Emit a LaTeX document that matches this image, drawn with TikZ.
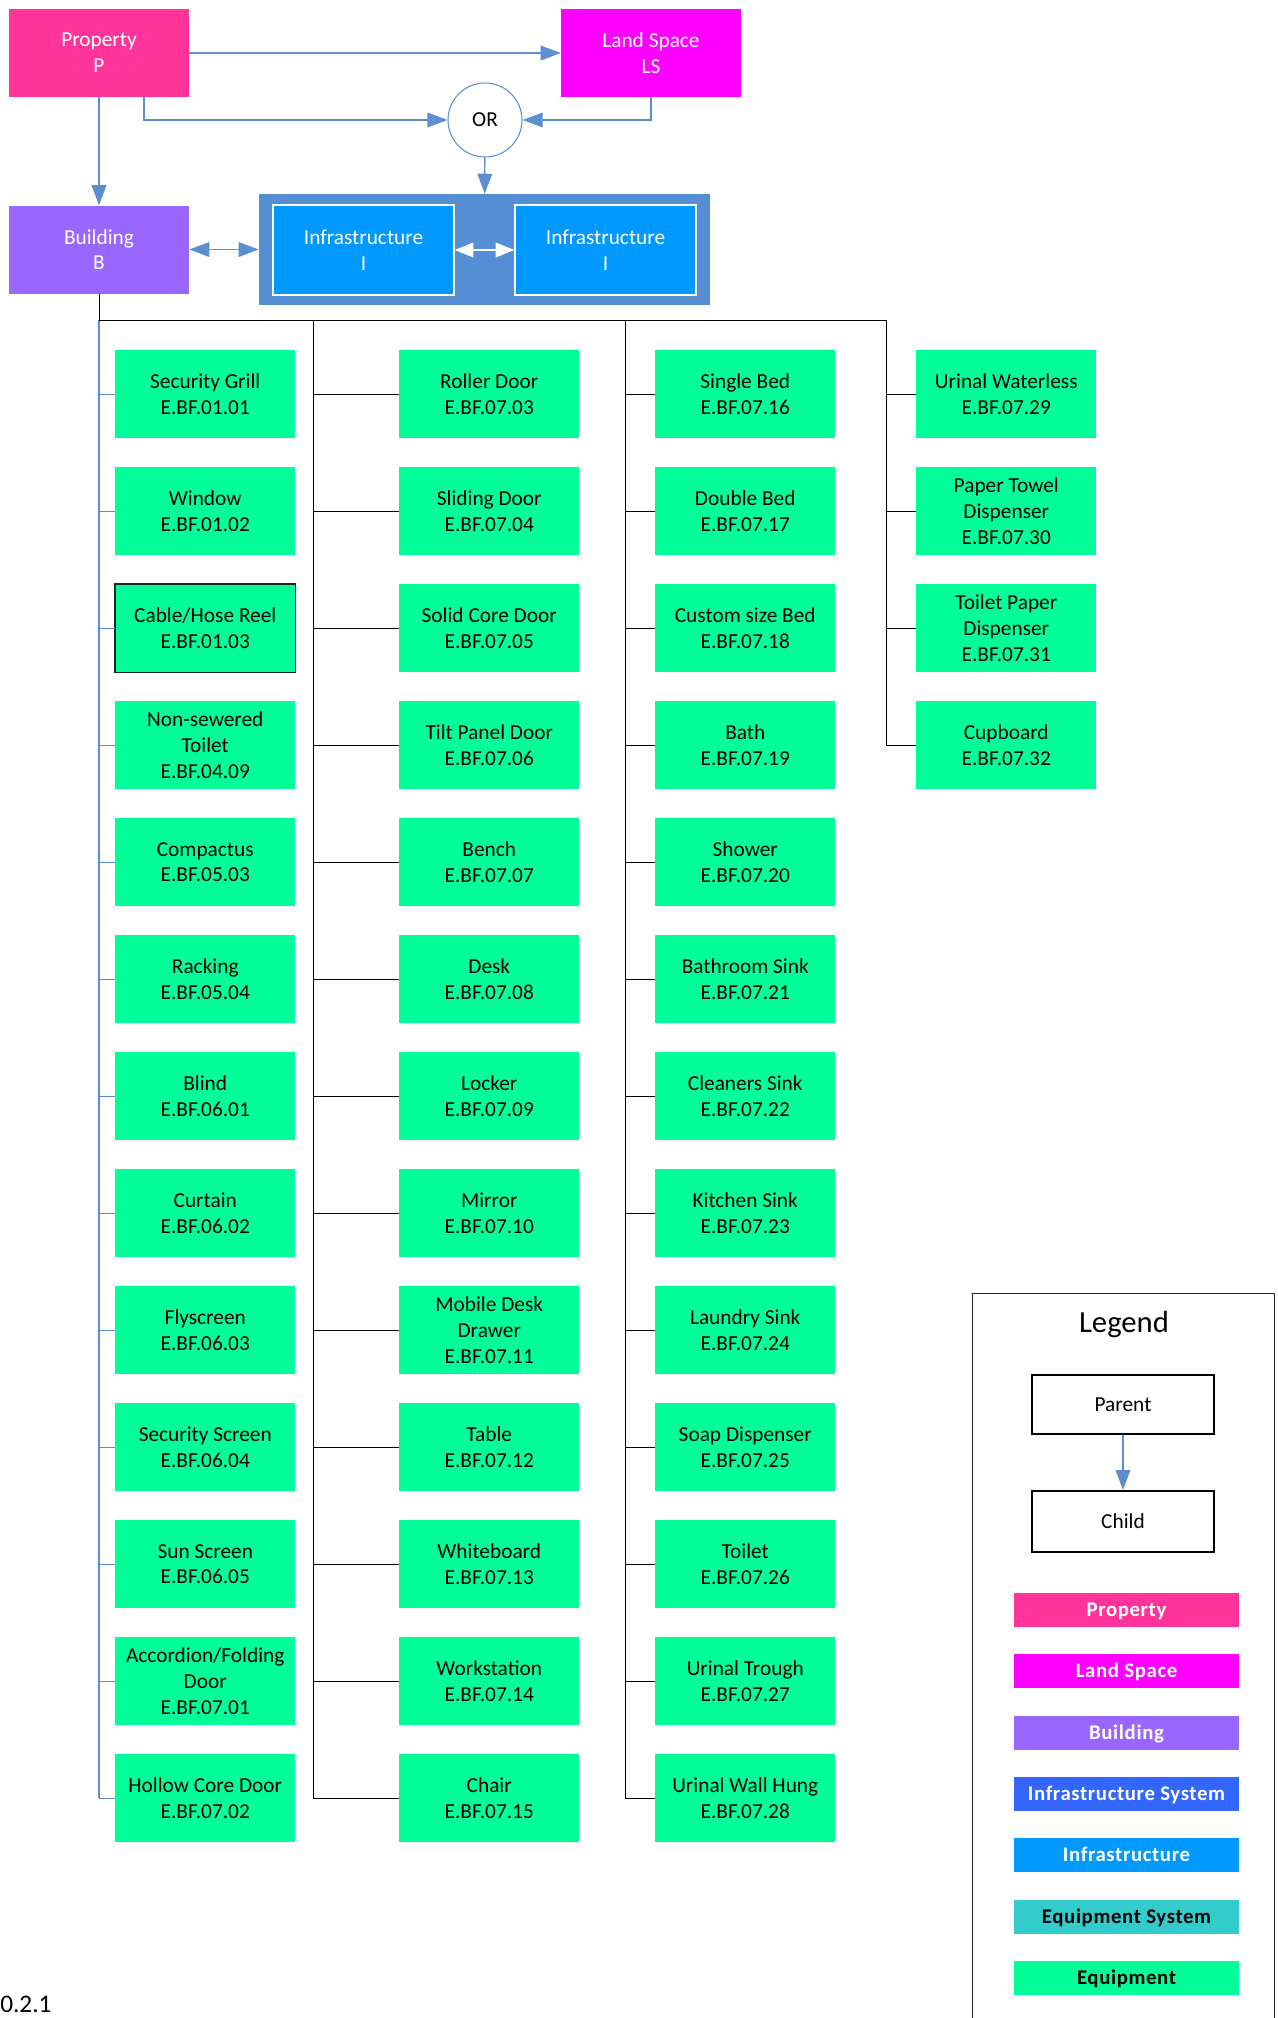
\documentclass[tikz,border=0pt]{standalone}
\usepackage{fontspec}
\setmainfont{Carlito}
\usetikzlibrary{arrows.meta,calc}
\definecolor{propc}{HTML}{FF3399}
\definecolor{lsc}{HTML}{FF00FF}
\definecolor{bldc}{HTML}{9966FF}
\definecolor{issc}{HTML}{558ED5}
\definecolor{isslc}{HTML}{3366FF}
\definecolor{infc}{HTML}{0099FF}
\definecolor{eqsc}{HTML}{33CCCC}
\definecolor{eqc}{HTML}{00FF99}
\definecolor{linec}{HTML}{5B8FD2}
\begin{document}
\begin{tikzpicture}[x=0.75pt,y=-0.75pt,
  txt/.style={font=\fontsize{16}{19.3}\selectfont},
  eq/.style={rectangle,fill=eqc,minimum width=135pt,minimum height=66pt,inner sep=0pt,align=center,anchor=north west,txt},
  topbox/.style={rectangle,minimum width=135pt,minimum height=66pt,inner sep=0pt,align=center,text=white,txt},
  barrow/.style={draw=linec,line width=1pt,-{Triangle[length=15pt,width=11pt]}},
  dbarrow/.style={draw=linec,line width=1pt,{Triangle[length=15pt,width=11pt]}-{Triangle[length=15pt,width=11pt]}},
  wdarrow/.style={draw=white,line width=1pt,{Triangle[length=14pt,width=11pt]}-{Triangle[length=14pt,width=11pt]}},
  bline/.style={draw=linec,line width=1pt},
  kline/.style={draw=black,line width=0.75pt},
  legbar/.style={rectangle,minimum width=168.75pt,minimum height=25.5pt,inner sep=0pt,text height=10pt,text depth=0pt,font=\fontsize{15.6}{18}\selectfont\bfseries\addfontfeatures{LetterSpace=3}}
]
\useasboundingbox (0,0) rectangle (1278,2018);

% top part
\node[topbox,fill=propc] (P) at (99,53) {Property\\P};
\node[topbox,fill=lsc] (LS) at (651,53) {Land Space\\LS};
\node[topbox,fill=bldc] (B) at (99,249.5) {Building\\B};
\node[rectangle,fill=issc,minimum width=338.25pt,minimum height=83.25pt,inner sep=0pt] (IS) at (484.5,249.5) {};
\node[topbox,fill=infc,draw=white,line width=1pt,minimum width=135.75pt,minimum height=67.5pt] (I1) at (363.5,250) {Infrastructure\\I};
\node[topbox,fill=infc,draw=white,line width=1pt,minimum width=135.75pt,minimum height=67.5pt] (I2) at (605.5,250) {Infrastructure\\I};
\node[circle,draw=linec,line width=0.8pt,fill=white,minimum size=55.5pt,inner sep=0pt,txt] (OR) at (485,120) {OR};

\draw[barrow] (P) -- (LS);
\draw[barrow] ($(P.south)+(45,0)$) |- (OR);
\draw[barrow] (LS.south) |- (OR);
\draw[barrow] (P) -- (B);
\draw[barrow] (OR) -- (IS);
\draw[dbarrow] (B) -- (IS);
\draw[wdarrow] (I1) -- (I2);

% column 1
\foreach [count=\i from 0] \t in {
  {\fontsize{16}{15.5}\selectfont Security Grill\\E.BF.01.01},
  {Window\\E.BF.01.02},
  {Cable/Hose Reel\\E.BF.01.03},
  {Non-sewered\\Toilet\\E.BF.04.09},
  {Compactus\\E.BF.05.03},
  {Racking\\E.BF.05.04},
  {Blind\\E.BF.06.01},
  {Curtain\\E.BF.06.02},
  {Flyscreen\\E.BF.06.03},
  {Security Screen\\E.BF.06.04},
  {Sun Screen\\E.BF.06.05},
  {Accordion/Folding\\Door\\E.BF.07.01},
  {Hollow Core Door\\E.BF.07.02}}
  \node[eq] (c1-\i) at (115,{350+117*\i}) {\t};
\draw[black!85,line width=0.9pt] (c1-2.north west) rectangle (c1-2.south east);

% column 2
\foreach [count=\i from 0] \t in {
  {Roller Door\\E.BF.07.03},
  {Sliding Door\\E.BF.07.04},
  {Solid Core Door\\E.BF.07.05},
  {Tilt Panel Door\\E.BF.07.06},
  {Bench\\E.BF.07.07},
  {Desk\\E.BF.07.08},
  {Locker\\E.BF.07.09},
  {Mirror\\E.BF.07.10},
  {Mobile Desk\\Drawer\\E.BF.07.11},
  {Table\\E.BF.07.12},
  {Whiteboard\\E.BF.07.13},
  {Workstation\\E.BF.07.14},
  {Chair\\E.BF.07.15}}
  \node[eq] (c2-\i) at (399,{350+117*\i}) {\t};

% column 3
\foreach [count=\i from 0] \t in {
  {Single Bed\\E.BF.07.16},
  {Double Bed\\E.BF.07.17},
  {Custom size Bed\\E.BF.07.18},
  {Bath\\E.BF.07.19},
  {Shower\\E.BF.07.20},
  {Bathroom Sink\\E.BF.07.21},
  {Cleaners Sink\\E.BF.07.22},
  {Kitchen Sink\\E.BF.07.23},
  {Laundry Sink\\E.BF.07.24},
  {Soap Dispenser\\E.BF.07.25},
  {Toilet\\E.BF.07.26},
  {Urinal Trough\\E.BF.07.27},
  {Urinal Wall Hung\\E.BF.07.28}}
  \node[eq] (c3-\i) at (655,{350+117*\i}) {\t};

% column 4
\foreach [count=\i from 0] \t in {
  {Urinal Waterless\\E.BF.07.29},
  {Paper Towel\\Dispenser\\E.BF.07.30},
  {Toilet Paper\\Dispenser\\E.BF.07.31},
  {Cupboard\\E.BF.07.32}}
  \node[eq] (c4-\i) at (916,{350+117*\i}) {\t};

% tree connectors
\coordinate (j1) at (99,320);
\coordinate (j2) at (313,320);
\coordinate (j3) at (625,320);
\coordinate (j4) at (886,320);
\draw[bline] (j1) -- (c1-12.west -| j1);
\foreach \i in {0,...,12} \draw[bline] (c1-\i.west -| j1) -- (c1-\i.west);
\draw[kline] (B.south) -- (j1) -- (j4);
\draw[kline] (j2) -- (c2-12.west -| j2);
\foreach \i in {0,...,12} \draw[kline] (c2-\i.west -| j2) -- (c2-\i.west);
\draw[kline] (j3) -- (c3-12.west -| j3);
\foreach \i in {0,...,12} \draw[kline] (c3-\i.west -| j3) -- (c3-\i.west);
\draw[kline] (j4) -- (c4-3.west -| j4);
\foreach \i in {0,...,3} \draw[kline] (c4-\i.west -| j4) -- (c4-\i.west);

% legend
\node[draw=black!85,line width=1pt,minimum width=226.5pt,minimum height=555pt,inner sep=0pt,anchor=north west] (leg) at (972,1293) {};
\node[font=\fontsize{23}{28}\selectfont] (legt) at (1124,1324) {Legend};
\node[draw=black,line width=1.5pt,minimum width=136.5pt,minimum height=44.25pt,inner sep=0pt,txt] (par) at (1123,1404.5) {Parent};
\node[draw=black,line width=1.5pt,minimum width=136.5pt,minimum height=45.75pt,inner sep=0pt,txt] (chi) at (1123,1521.5) {Child};
\draw[barrow] (par) -- (chi);
\node[legbar,fill=propc,text=white] (l1) at (1126.5,1610) {Property};
\node[legbar,fill=lsc,text=white] (l2) at (1126.5,1671.3) {Land Space};
\node[legbar,fill=bldc,text=white] (l3) at (1126.5,1732.6) {Building};
\node[legbar,fill=isslc,text=white] (l4) at (1126.5,1793.9) {Infrastructure System};
\node[legbar,fill=infc,text=white] (l5) at (1126.5,1855.2) {Infrastructure};
\node[legbar,fill=eqsc,text=black] (l6) at (1126.5,1916.5) {Equipment System};
\node[legbar,fill=eqc,text=black] (l7) at (1126.5,1977.8) {Equipment};

\node[anchor=base west,inner sep=0pt,font=\fontsize{19}{23}\selectfont] (fig) at (0,2012) {0.2.1};
\end{tikzpicture}
\end{document}
